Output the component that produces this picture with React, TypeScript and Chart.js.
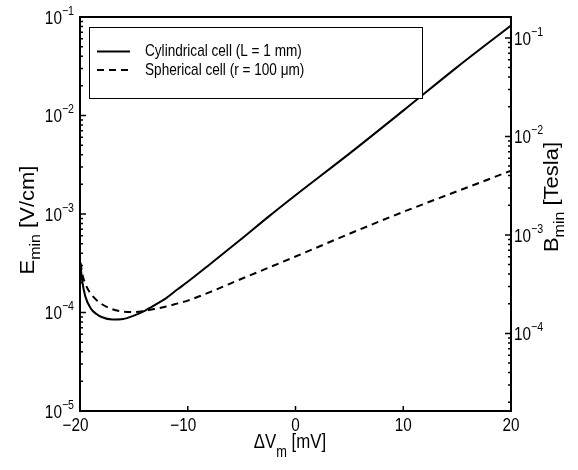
import React, { useEffect, useRef } from 'react';
import { Chart, registerables } from 'chart.js';

Chart.register(...registerables);

// ---- data ----
const deltaVm = [-19.95, -19.8, -19.5, -19, -18.5, -18, -17, -16, -15, -14, -13, -12, -11, -10, -8, -5, -2.5, 0, 5, 10, 15, 20];
const eCylindrical = [3.0e-4, 2.1e-4, 1.45e-4, 1.1e-4, 9.7e-5, 9.0e-5, 8.5e-5, 8.6e-5, 9.3e-5, 1.04e-4, 1.2e-4, 1.4e-4, 1.7e-4, 2.05e-4, 3.05e-4, 5.6e-4, 9.4e-4, 1.55e-3, 4.1e-3, 1.12e-2, 3.1e-2, 8.2e-2];
const eSpherical = [3.2e-4, 2.5e-4, 1.95e-4, 1.55e-4, 1.35e-4, 1.22e-4, 1.08e-4, 1.02e-4, 1.01e-4, 1.04e-4, 1.09e-4, 1.15e-4, 1.23e-4, 1.32e-4, 1.6e-4, 2.2e-4, 2.85e-4, 3.7e-4, 6.3e-4, 1.05e-3, 1.7e-3, 2.75e-3];
const seriesNames = ['Cylindrical cell (L = 1 mm)', 'Spherical cell (r = 100 \u03BCm)'];
const xTickValues = [-20, -10, 0, 10, 20];
const leftExponents = [-1, -2, -3, -4, -5];
const rightExponents = [-1, -2, -3, -4];
const eRange = [1e-5, 1e-1];
const bRange = [1.63e-5, 1.63e-1];
const xTitleParts = ['\u0394V', 'm', ' [mV]'];
const leftTitleParts = ['E', 'min', ' [V/cm]'];
const rightTitleParts = ['B', 'min', ' [Tesla]'];

const FONT = '"Liberation Sans", Arial, Helvetica, sans-serif';
const MINUS = '\u2212';

type Run = { t: string; size: number; dy: number };

function drawRuns(
  ctx: CanvasRenderingContext2D,
  runs: Run[],
  x: number,
  y: number,
  align: 'left' | 'center' | 'right',
  rot: number,
  sx: number,
  sy: number
) {
  ctx.save();
  ctx.translate(x, y);
  ctx.rotate(rot);
  ctx.scale(sx, sy);
  let total = 0;
  const widths = runs.map((r) => {
    ctx.font = `${r.size}px ${FONT}`;
    const w = ctx.measureText(r.t).width;
    total += w;
    return w;
  });
  let cx = align === 'left' ? 0 : align === 'center' ? -total / 2 : -total;
  ctx.textBaseline = 'alphabetic';
  ctx.textAlign = 'left';
  ctx.fillStyle = '#000';
  runs.forEach((r, i) => {
    ctx.font = `${r.size}px ${FONT}`;
    ctx.fillText(r.t, cx, r.dy);
    cx += widths[i];
  });
  ctx.restore();
  return total * sx;
}

const SX = 0.85;

const overlay = {
  id: 'overlay',
  afterDraw(chart: any) {
    const ctx: CanvasRenderingContext2D = chart.ctx;
    const { left, right, top, bottom } = chart.chartArea;
    const xs = chart.scales.x;
    const yl = chart.scales.y;
    const yr = chart.scales.y2;
    ctx.save();
    ctx.strokeStyle = '#000';
    ctx.lineCap = 'butt';

    // ticks (inward)
    ctx.lineWidth = 1.5;
    ctx.beginPath();
    xTickValues.forEach((v) => {
      const px = xs.getPixelForValue(v);
      ctx.moveTo(px, bottom);
      ctx.lineTo(px, bottom - 5);
    });
    for (let n = -5; n <= -1; n++) {
      for (let k = 1; k <= 9; k++) {
        const v = k * Math.pow(10, n);
        const len = k === 1 ? 6 : 3;
        if (v >= eRange[0] * 0.999 && v <= eRange[1] * 1.001) {
          const py = yl.getPixelForValue(v);
          ctx.moveTo(left, py);
          ctx.lineTo(left + len, py);
        }
        if (v >= bRange[0] && v <= bRange[1]) {
          const py = yr.getPixelForValue(v);
          ctx.moveTo(right, py);
          ctx.lineTo(right - len, py);
        }
      }
    }
    ctx.stroke();

    // box
    ctx.lineWidth = 2;
    ctx.strokeRect(left, top, right - left, bottom - top);

    // left tick labels
    leftExponents.forEach((e) => {
      const py = yl.getPixelForValue(Math.pow(10, e));
      drawRuns(ctx, [
        { t: '10', size: 18, dy: 0 },
        { t: MINUS + String(-e), size: 12.5, dy: -9 },
      ], left - 6, py + 6.5, 'right', 0, SX, 1);
    });
    // right tick labels
    rightExponents.forEach((e) => {
      const py = yr.getPixelForValue(Math.pow(10, e));
      drawRuns(ctx, [
        { t: '10', size: 18, dy: 0 },
        { t: MINUS + String(-e), size: 12.5, dy: -9 },
      ], right + 3, py + 7, 'left', 0, SX, 1);
    });
    // x tick labels
    xTickValues.forEach((v) => {
      const px = xs.getPixelForValue(v);
      const w = drawRuns(ctx, [{ t: String(Math.abs(v)), size: 18, dy: 0 }], px, 431, 'center', 0, SX, 1);
      if (v < 0) {
        drawRuns(ctx, [{ t: MINUS, size: 18, dy: 0 }], px - w / 2, 431, 'right', 0, SX, 1);
      }
    });

    // axis titles
    drawRuns(ctx, [
      { t: xTitleParts[0], size: 21, dy: 0 },
      { t: xTitleParts[1], size: 16, dy: 9 },
      { t: xTitleParts[2], size: 21, dy: 0 },
    ], 290, 448, 'center', 0, 0.8, 1);
    drawRuns(ctx, [
      { t: leftTitleParts[0], size: 22, dy: 0 },
      { t: leftTitleParts[1], size: 16, dy: 7 },
      { t: leftTitleParts[2], size: 22, dy: 0 },
    ], 33.5, 220, 'center', -Math.PI / 2, 1, 0.9);
    drawRuns(ctx, [
      { t: rightTitleParts[0], size: 22, dy: 0 },
      { t: rightTitleParts[1], size: 16, dy: 7 },
      { t: rightTitleParts[2], size: 22, dy: 0 },
    ], 558, 197, 'center', -Math.PI / 2, 1, 0.9);

    // legend
    const lx0 = 89, ly0 = 27, lx1 = 422, ly1 = 98;
    ctx.fillStyle = '#fff';
    ctx.fillRect(lx0, ly0, lx1 - lx0, ly1 - ly0);
    ctx.lineWidth = 1;
    ctx.strokeStyle = '#000';
    ctx.strokeRect(lx0 + 0.5, ly0 + 0.5, lx1 - lx0, ly1 - ly0);
    const rows = [
      { y: 51.5, base: 56, dash: [] as number[] },
      { y: 70, base: 75, dash: [7, 5] },
    ];
    rows.forEach((r, i) => {
      ctx.lineWidth = 2;
      ctx.setLineDash(r.dash);
      ctx.beginPath();
      ctx.moveTo(97, r.y);
      ctx.lineTo(130, r.y);
      ctx.stroke();
      ctx.setLineDash([]);
      drawRuns(ctx, [{ t: seriesNames[i], size: 17, dy: 0 }], 145, r.base, 'left', 0, 0.8, 1);
    });
    ctx.restore();
  },
};

export default function App() {
  const ref = useRef<HTMLCanvasElement>(null);
  useEffect(() => {
    if (!ref.current) return;
    const chart = new Chart(ref.current, {
      type: 'line',
      data: {
        datasets: [
          {
            label: seriesNames[0],
            data: deltaVm.map((x, i) => ({ x, y: eCylindrical[i] })),
            borderColor: '#000',
            borderWidth: 2,
            pointRadius: 0,
            cubicInterpolationMode: 'monotone',
            yAxisID: 'y',
            fill: false,
          },
          {
            label: seriesNames[1],
            data: deltaVm.map((x, i) => ({ x, y: eSpherical[i] })),
            borderColor: '#000',
            borderWidth: 2,
            borderDash: [7, 5],
            pointRadius: 0,
            cubicInterpolationMode: 'monotone',
            yAxisID: 'y',
            fill: false,
          },
        ],
      },
      options: {
        animation: false,
        responsive: false,
        devicePixelRatio: 1,
        layout: { padding: { top: 17, left: 0, right: 0, bottom: 0 } },
        plugins: { legend: { display: false }, tooltip: { enabled: false } },
        scales: {
          x: {
            type: 'linear',
            position: 'bottom',
            min: -20,
            max: 20,
            grid: { display: false },
            border: { display: false },
            ticks: { display: false },
            afterFit: (s: any) => { s.height = 59; },
          },
          y: {
            type: 'logarithmic',
            position: 'left',
            min: eRange[0],
            max: eRange[1],
            grid: { display: false },
            border: { display: false },
            ticks: { display: false },
            afterFit: (s: any) => { s.width = 80; },
          },
          y2: {
            type: 'logarithmic',
            position: 'right',
            min: bRange[0],
            max: bRange[1],
            grid: { display: false },
            border: { display: false },
            ticks: { display: false },
            afterFit: (s: any) => { s.width = 67; },
          },
        },
      } as any,
      plugins: [overlay],
    });
    return () => chart.destroy();
  }, []);
  return (
    <div style={{ position: 'fixed', left: 0, top: 0, width: 578, height: 470, background: '#fff' }}>
      <canvas ref={ref} width={578} height={470} style={{ display: 'block' }} />
    </div>
  );
}
